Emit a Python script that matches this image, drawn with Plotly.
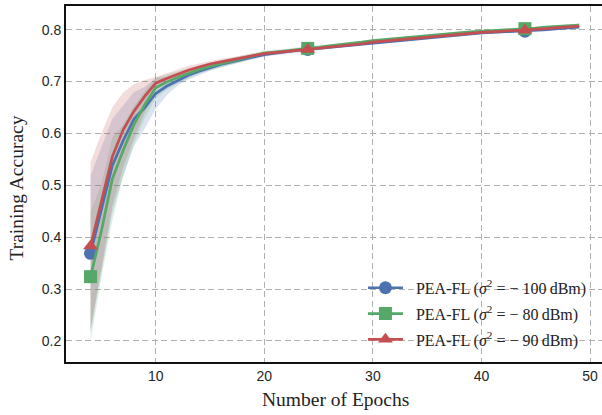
import plotly.graph_objects as go

# Training epochs recorded for every run
epochs = list(range(4, 50))

# Mean training accuracy per noise level
acc_100 = [0.369, 0.452, 0.538, 0.586, 0.628, 0.650, 0.677, 0.691, 0.702, 0.712,
           0.720, 0.727, 0.733, 0.738, 0.743, 0.748, 0.752, 0.755, 0.758, 0.760,
           0.762, 0.764, 0.766, 0.769, 0.771, 0.773, 0.775, 0.777, 0.779, 0.781,
           0.783, 0.785, 0.787, 0.789, 0.791, 0.792, 0.794, 0.795, 0.796, 0.796,
           0.797, 0.799, 0.800, 0.802, 0.803, 0.805]
acc_80 = [0.324, 0.412, 0.512, 0.567, 0.617, 0.656, 0.688, 0.699, 0.708, 0.716,
          0.723, 0.729, 0.734, 0.739, 0.744, 0.750, 0.755, 0.757, 0.759, 0.762,
          0.764, 0.766, 0.769, 0.771, 0.774, 0.776, 0.779, 0.781, 0.783, 0.785,
          0.787, 0.789, 0.790, 0.792, 0.794, 0.796, 0.797, 0.798, 0.800, 0.801,
          0.802, 0.803, 0.805, 0.806, 0.808, 0.809]
acc_90 = [0.383, 0.470, 0.555, 0.607, 0.643, 0.672, 0.697, 0.706, 0.714, 0.722,
          0.728, 0.734, 0.738, 0.742, 0.746, 0.750, 0.754, 0.756, 0.758, 0.760,
          0.762, 0.764, 0.766, 0.768, 0.770, 0.773, 0.776, 0.778, 0.780, 0.782,
          0.784, 0.786, 0.788, 0.790, 0.792, 0.793, 0.795, 0.796, 0.797, 0.798,
          0.799, 0.801, 0.802, 0.804, 0.805, 0.807]

# Standard deviation across runs
std_100 = [0.150, 0.120, 0.090, 0.068, 0.052, 0.040, 0.030, 0.018, 0.010, 0.008,
           0.007, 0.006, 0.006, 0.005, 0.005, 0.005, 0.004, 0.004, 0.004, 0.004,
           0.004, 0.003, 0.003, 0.003, 0.003, 0.003, 0.003, 0.003, 0.003, 0.003,
           0.003, 0.003, 0.003, 0.003, 0.003, 0.003, 0.003, 0.003, 0.003, 0.003,
           0.003, 0.003, 0.003, 0.003, 0.003, 0.003]
std_80 = [0.125, 0.090, 0.080, 0.050, 0.036, 0.026, 0.020, 0.015, 0.012, 0.010,
          0.008, 0.007, 0.007, 0.006, 0.006, 0.006, 0.005, 0.005, 0.004, 0.004,
          0.004, 0.003, 0.003, 0.003, 0.003, 0.003, 0.003, 0.003, 0.003, 0.003,
          0.003, 0.003, 0.003, 0.003, 0.003, 0.003, 0.003, 0.003, 0.003, 0.003,
          0.003, 0.003, 0.003, 0.003, 0.003, 0.003]
std_90 = [0.162, 0.130, 0.095, 0.072, 0.052, 0.031, 0.012, 0.010, 0.009, 0.008,
          0.007, 0.006, 0.006, 0.005, 0.005, 0.005, 0.004, 0.004, 0.004, 0.004,
          0.004, 0.003, 0.003, 0.003, 0.003, 0.003, 0.003, 0.003, 0.003, 0.003,
          0.003, 0.003, 0.003, 0.003, 0.003, 0.003, 0.003, 0.003, 0.003, 0.003,
          0.003, 0.003, 0.003, 0.003, 0.003, 0.003]

labels = [
    "\u00a0\u00a0PEA-FL (<i>σ</i><sup>2</sup> = − 100\u2009dBm)",
    "\u00a0\u00a0PEA-FL (<i>σ</i><sup>2</sup> = − 80\u2009dBm)",
    "\u00a0\u00a0PEA-FL (<i>σ</i><sup>2</sup> = − 90\u2009dBm)",
]
x_title = "Number of Epochs"
y_title = "Training Accuracy"
x_ticks = [10, 20, 30, 40, 50]
y_ticks = [0.2, 0.3, 0.4, 0.5, 0.6, 0.7, 0.8]

series = [
    (acc_100, std_100, "#4C72B0", "rgba(76,114,176,0.2)", "circle"),
    (acc_80, std_80, "#55A868", "rgba(85,168,104,0.2)", "square"),
    (acc_90, std_90, "#C44E52", "rgba(196,78,82,0.2)", "triangle-up"),
]
mark_every = 20

fig = go.Figure()

# shaded ±std bands
for mean, std, color, fill, sym in series:
    upper = [m + s for m, s in zip(mean, std)]
    lower = [m - s for m, s in zip(mean, std)]
    fig.add_trace(go.Scatter(x=epochs, y=upper, mode="lines", line=dict(width=0),
                             hoverinfo="skip", showlegend=False))
    fig.add_trace(go.Scatter(x=epochs, y=lower, mode="lines", line=dict(width=0),
                             fill="tonexty", fillcolor=fill,
                             hoverinfo="skip", showlegend=False))

# mean curves with sparse markers
for mean, std, color, fill, sym in series:
    fig.add_trace(go.Scatter(x=epochs, y=mean, mode="lines",
                             line=dict(color=color, width=2.7), showlegend=False))
    fig.add_trace(go.Scatter(x=epochs[::mark_every], y=mean[::mark_every],
                             mode="markers",
                             marker=dict(color=color, symbol=sym, size=13,
                                         line=dict(width=0)),
                             showlegend=False))

# legend entries (line + marker)
for (mean, std, color, fill, sym), name in zip(series, labels):
    fig.add_trace(go.Scatter(x=[None], y=[None], mode="lines+markers", name=name,
                             legendgroup=name,
                             line=dict(color=color, width=2.7),
                             marker=dict(color=color, symbol=sym, size=13,
                                         line=dict(width=0))))

grid = dict(showgrid=True, gridcolor="#b0b0b0", gridwidth=1.3, griddash="6px,3.5px",
            zeroline=False, ticks="",
            tickfont=dict(family="Liberation Sans", size=14, color="#262626"))

title_font = dict(family="Liberation Serif", size=19.5, color="#222")

fig.update_layout(
    width=602, height=415,
    margin=dict(l=66, r=0, t=6, b=53),
    paper_bgcolor="white", plot_bgcolor="white",
    xaxis=dict(range=[1.74, 51.1], tickvals=x_ticks, showline=True, linecolor="#111",
               linewidth=2, mirror=True, **grid),
    yaxis=dict(range=[0.1595, 0.8457], tickvals=y_ticks, tickformat=".1f",
               showline=True, linecolor="#111", linewidth=2, mirror=False, **grid),
    legend=dict(x=0.554, y=0.256, xanchor="left", yanchor="top",
                bgcolor="rgba(0,0,0,0)", borderwidth=0, itemwidth=35,
                tracegroupgap=2, traceorder="grouped",
                font=dict(family="Liberation Serif", size=16, color="#222")),
    annotations=[
        dict(text=x_title, xref="paper", yref="paper", x=0.502, y=-0.104,
             xanchor="center", yanchor="middle", showarrow=False, font=title_font),
        dict(text=y_title, xref="paper", yref="paper", x=-0.0923, y=0.4888,
             xanchor="center", yanchor="middle", textangle=-90, showarrow=False,
             font=title_font),
    ],
)

fig.write_html("out.html")
